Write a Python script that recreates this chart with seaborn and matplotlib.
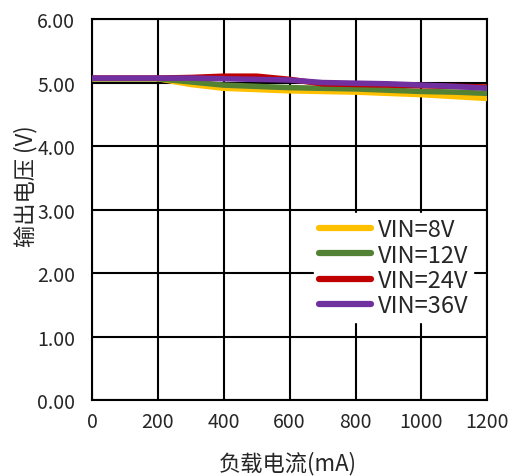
import pandas as pd
import numpy as np
import matplotlib
matplotlib.use("Agg")
import matplotlib.pyplot as plt
import seaborn as sns

# ---------- DATA ----------
current_ma = [0, 100, 200, 300, 400, 500, 600, 700, 800, 900, 1000, 1100, 1200]
vin_8v = [5.06, 5.06, 5.06, 4.97, 4.91, 4.89, 4.87, 4.86, 4.85, 4.83, 4.81, 4.78, 4.75]
vin_12v = [5.06, 5.06, 5.06, 5.01, 4.96, 4.94, 4.92, 4.91, 4.90, 4.88, 4.86, 4.85, 4.83]
vin_24v = [5.07, 5.07, 5.07, 5.08, 5.10, 5.10, 5.05, 4.98, 4.97, 4.96, 4.95, 4.94, 4.93]
vin_36v = [5.07, 5.07, 5.07, 5.07, 5.06, 5.05, 5.04, 5.00, 4.99, 4.98, 4.96, 4.94, 4.91]
series_names = ["VIN=8V", "VIN=12V", "VIN=24V", "VIN=36V"]
colors = ["#FFC000", "#548235", "#C00000", "#7030A0"]

df = pd.DataFrame({
    "current": current_ma * 4,
    "vout": vin_8v + vin_12v + vin_24v + vin_36v,
    "series": np.repeat(series_names, len(current_ma)),
})

# ---------- PLOT ----------
sns.set_style("white")
plt.rcParams['font.family'] = ['Noto Sans CJK SC', 'DejaVu Sans']

fig = plt.figure(figsize=(5.2, 4.77), dpi=100)
ax = fig.add_axes([0.177, 0.159, 0.760, 0.799])

sns.lineplot(data=df, x="current", y="vout", hue="series",
             hue_order=series_names, palette=colors,
             linewidth=4, ax=ax, zorder=3)

ax.set_xlim(0, 1200)
ax.set_ylim(0, 6)
ax.set_xticks(range(0, 1201, 200))
ax.set_yticks(np.arange(0, 6.01, 1))
ax.set_yticklabels([f"{v:.2f}" for v in np.arange(0, 6.01, 1)])
ax.grid(True, color="black", linewidth=1.5)
for s in ax.spines.values():
    s.set_color("black")
    s.set_linewidth(1.5)
ax.tick_params(axis="y", labelsize=14, length=0, pad=12)
ax.tick_params(axis="x", labelsize=14, length=0, pad=8)

ax.set_xlabel("负载电流(mA)", fontsize=16)
ax.set_ylabel("输出电压 (V)", fontsize=16)
ax.xaxis.set_label_coords(0.496, -0.132)
ax.yaxis.set_label_coords(-0.137, 0.565)

leg = ax.legend(loc="lower right", bbox_to_anchor=(0.965, 0.205),
                fontsize=17, frameon=True, framealpha=1, edgecolor="white",
                fancybox=False, handlelength=2.2, handletextpad=0.3,
                labelspacing=0.1, borderpad=0.2, borderaxespad=0)
for line in leg.get_lines():
    line.set_linewidth(4.5)

fig.savefig("out.png", dpi=100)
